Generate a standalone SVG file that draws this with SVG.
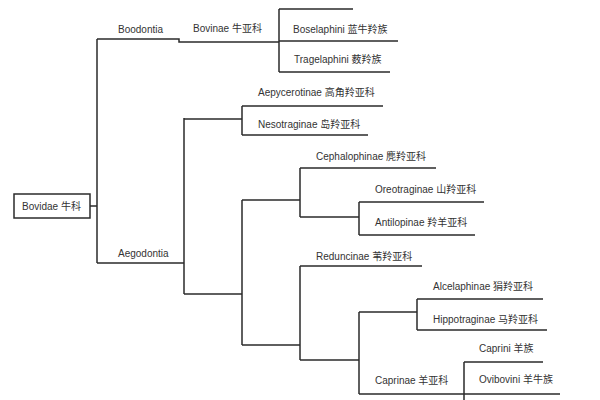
<svg xmlns="http://www.w3.org/2000/svg" width="600" height="400" viewBox="0 0 600 400">
<style>
text{font-family:"Liberation Sans","Noto Sans CJK SC",sans-serif;font-size:10px;fill:#333}
.e{fill:none;stroke:#2b2b2b;stroke-width:1.5}
</style>
<rect width="600" height="400" fill="#fff"/>
<g id="connectors" class="e">
<path d="M90 206H97M97 39V263"/>
<path d="M97 39H179V42H279"/>
<path d="M279 9V72M279 9H353M279 41H398M279 72H390"/>
<path d="M97 263H184M184 118V294"/>
<path d="M184 119H242M242 106V135M242 106H383M242 135H368"/>
<path d="M184 294H242M242 200V345"/>
<path d="M242 200H300M300 168V217M300 168H436M300 217H359M359 202V235M359 202H484M359 235H475"/>
<path d="M242 345H300M300 266V360M300 266H422M300 360H359M359 312V394"/>
<path d="M359 312H417M417 299V330M417 299H543M417 330H547"/>
<path d="M359 394H464M464 362V400M464 362H543M464 394H560"/>
</g>
<g id="n-bovidae"><rect x="14" y="194" width="76" height="24" fill="#fff" stroke="#2b2b2b" stroke-width="1.5"/><text x="22" y="210">Bovidae 牛科</text></g>
<g id="n-boodontia"><text x="118" y="33">Boodontia</text></g>
<g id="n-bovinae"><text x="193" y="32">Bovinae 牛亚科</text></g>
<g id="n-boselaphini"><text x="293" y="33">Boselaphini 蓝牛羚族</text></g>
<g id="n-tragelaphini"><text x="294" y="63">Tragelaphini 薮羚族</text></g>
<g id="n-aegodontia"><text x="118" y="257">Aegodontia</text></g>
<g id="n-aepycerotinae"><text x="258" y="96">Aepycerotinae 高角羚亚科</text></g>
<g id="n-nesotraginae"><text x="258" y="128">Nesotraginae 岛羚亚科</text></g>
<g id="n-cephalophinae"><text x="316" y="160">Cephalophinae 麂羚亚科</text></g>
<g id="n-oreotraginae"><text x="375" y="193">Oreotraginae 山羚亚科</text></g>
<g id="n-antilopinae"><text x="375" y="226">Antilopinae 羚羊亚科</text></g>
<g id="n-reduncinae"><text x="316" y="260">Reduncinae 苇羚亚科</text></g>
<g id="n-alcelaphinae"><text x="433" y="290">Alcelaphinae 狷羚亚科</text></g>
<g id="n-hippotraginae"><text x="433" y="323">Hippotraginae 马羚亚科</text></g>
<g id="n-caprini"><text x="479" y="352">Caprini 羊族</text></g>
<g id="n-ovibovini"><text x="479" y="383">Ovibovini 羊牛族</text></g>
<g id="n-caprinae"><text x="375" y="384">Caprinae 羊亚科</text></g>
</svg>
